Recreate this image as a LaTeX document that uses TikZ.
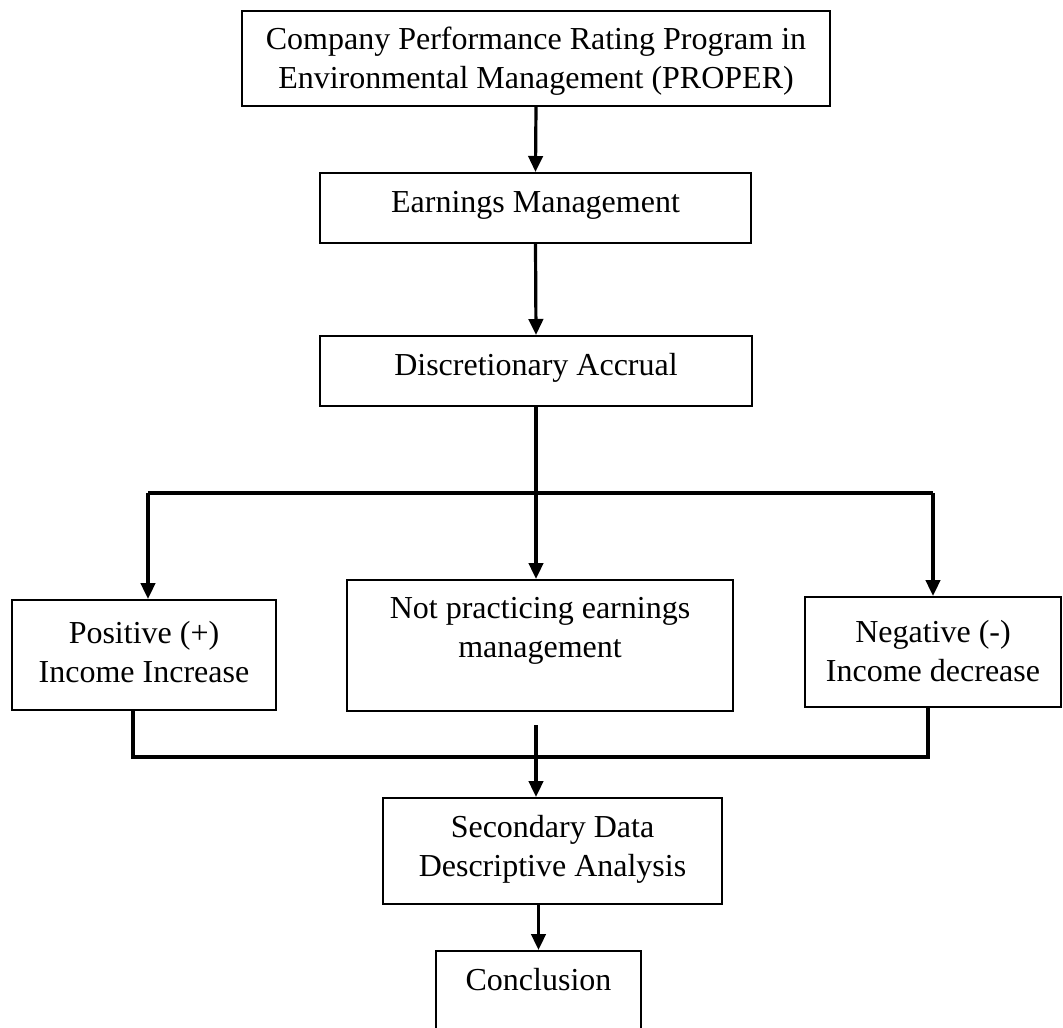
\documentclass[tikz,border=0pt]{standalone}
\usepackage{fontspec}
\setmainfont{Liberation Serif}
\usetikzlibrary{arrows.meta, positioning, calc}

\begin{document}
\begin{tikzpicture}[x=0.375pt, y=-0.375pt,
        box/.style={draw, line width=0.7pt, anchor=north, align=center, inner xsep=0pt,
            font=\fontsize{12}{14.5}\selectfont, text height=9pt},
        twoline/.style={text height=23.5pt},
        flow/.style={line width=1.2pt, -{Triangle[length=6pt, width=5.4pt]}},
        bar/.style={line width=1.2pt}]
        \useasboundingbox (0,0) rectangle (1063,1028);

        % Main chain
        \node[box, twoline, minimum width=220.5pt, inner ysep=5.6pt, text depth=0.9pt] (proper) at (536,10)
            {Company Performance Rating Program in\\Environmental Management (PROPER)};
        \node[box, minimum width=161.6pt, inner ysep=6pt, text depth=5.25pt] (earn) at (535.5,172)
            {Earnings Management};
        \node[box, minimum width=162pt, inner ysep=6pt, text depth=5.25pt] (accrual) at (536,335)
            {Discretionary Accrual};

        % Three outcomes
        \node[box, twoline, minimum width=99pt, inner ysep=7.5pt, text depth=2.75pt] (pos) at (144,599)
            {Positive (+)\\Income Increase};
        \node[box, twoline, minimum width=144.75pt, inner ysep=5.6pt, text depth=14.4pt] (notem) at (540,579)
            {Not practicing earnings\\management};
        \node[box, twoline, minimum width=96pt, inner ysep=8.25pt, text depth=1.25pt] (neg) at (933,596)
            {Negative (-)\\Income decrease};

        % Analysis and end
        \node[box, twoline, minimum width=127pt, inner ysep=6pt, text depth=4.25pt] (second) at (552.5,797)
            {Secondary Data\\Descriptive Analysis};
        \node[box, minimum width=77pt, inner ysep=6pt, text depth=20.25pt] (concl) at (538.5,950)
            {Conclusion};

        % Arrows down the chain
        \draw[flow] (proper.south) -- (earn.north);
        \draw[flow] (earn.south) -- (accrual.north);
        \draw[flow] (accrual.south) -- (accrual.south |- notem.north);

        % Split
        \coordinate (splitl) at (148,493);
        \coordinate (splitr) at (933,493);
        \draw[bar] (splitl) -- (splitr);
        \draw[flow] (splitl) -- (splitl |- pos.north);
        \draw[flow] (splitr) -- (splitr |- neg.north);

        % Merge
        \coordinate (mergel) at (133,757);
        \coordinate (merger) at (928,757);
        \coordinate (mergemid) at (536,725);
        \draw[bar] (mergel |- pos.south) -- (mergel) -- (merger) -- (merger |- neg.south);
        \draw[flow] (mergemid) -- (mergemid |- second.north);
        \draw[flow] (second.south -| concl) -- (concl.north);
\end{tikzpicture}
\end{document}
